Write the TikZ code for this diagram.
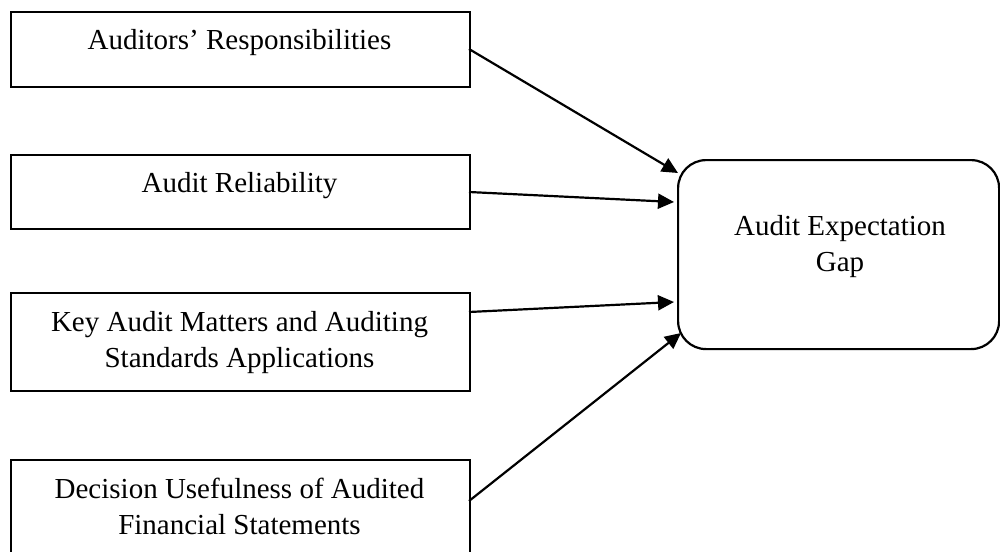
\documentclass[tikz,border=0pt]{standalone}
\usepackage{fontspec}
\setmainfont{Liberation Serif}
\usetikzlibrary{arrows.meta}
\begin{document}
\begin{tikzpicture}[x=1pt,y=-1pt,
  box/.style={draw=black,line width=2.2pt,rectangle,anchor=north west,inner sep=0pt},
  gapbox/.style={draw=black,line width=2.2pt,rectangle,rounded corners=28pt,anchor=north west,inner sep=0pt},
  lbl/.style={anchor=base,align=center,inner sep=0pt,font=\fontsize{29}{36}\selectfont},
  conn/.style={line width=2.2pt,-{Triangle[length=16pt,width=15pt]}}]
\useasboundingbox (0,0) rectangle (1000,551);
\clip (0,0) rectangle (1000,551);
\node[box,minimum width=459pt,minimum height=75pt] (b1) at (10,11) {};
\node[box,minimum width=459pt,minimum height=74pt] (b2) at (10,154) {};
\node[box,minimum width=459pt,minimum height=98pt] (b3) at (10,292) {};
\node[box,minimum width=459pt,minimum height=98pt] (b4) at (10,459) {};
\node[gapbox,minimum width=321pt,minimum height=189pt] (g) at (677,159) {};
\node[lbl] (l1) at (239.5,50) {Auditors’ Responsibilities};
\node[lbl] (l2) at (239.5,192) {Audit Reliability};
\node[lbl] (l3) at (239.5,367) {Key Audit Matters and Auditing\\Standards Applications};
\node[lbl] (l4) at (239.5,534) {Decision Usefulness of Audited\\Financial Statements};
\node[lbl] (lg) at (840,271) {Audit Expectation\\Gap};
\coordinate (s1) at (469,49);
\coordinate (s2) at (469,192);
\coordinate (s3) at (469,312);
\coordinate (s4) at (469,501);
\coordinate (t1) at (678,173);
\coordinate (t2) at (674,202);
\coordinate (t3) at (674,302);
\coordinate (t4) at (681,333);
\draw[conn] (s1) -- (t1);
\draw[conn] (s2) -- (t2);
\draw[conn] (s3) -- (t3);
\draw[conn] (s4) -- (t4);
\end{tikzpicture}
\end{document}
